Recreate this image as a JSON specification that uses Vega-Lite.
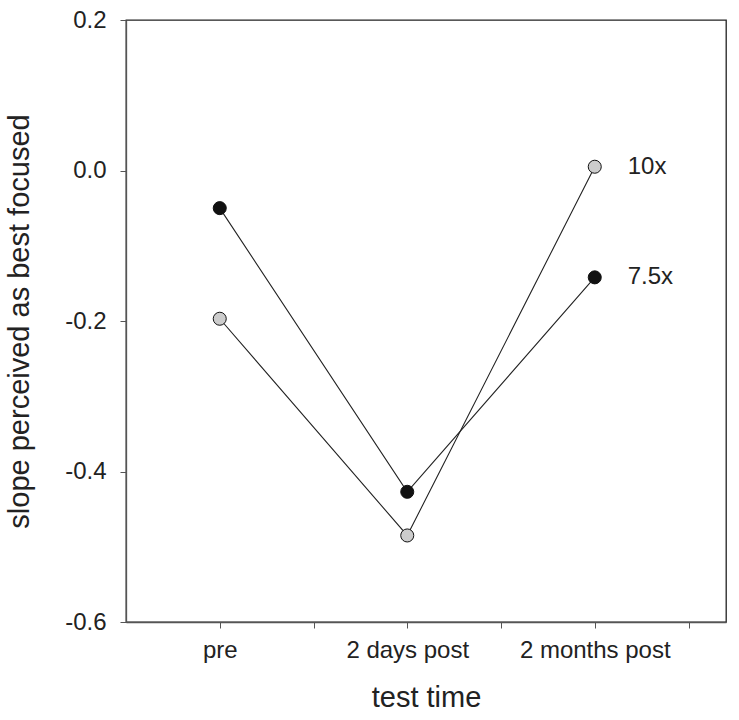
{
  "$schema": "https://vega.github.io/schema/vega-lite/v6.json",
  "width": 600,
  "height": 602,
  "autosize": {"type": "none"},
  "padding": {"left": 126, "top": 20, "right": 13, "bottom": 98},
  "background": "white",
  "config": {
    "view": {"stroke": "#222", "strokeWidth": 1.3},
    "font": "Liberation Sans",
    "axis": {"grid": false, "domainColor": "#555", "tickColor": "#555", "labelColor": "#222", "titleColor": "#222", "labelFontSize": 24, "titleFontSize": 29, "titleFontWeight": "normal", "tickSize": 6, "domainWidth": 1.3}
  },
  "data": {
    "values": [
      {"t": 1, "series": "7.5x", "slope": -0.05},
      {"t": 2, "series": "7.5x", "slope": -0.427},
      {"t": 3, "series": "7.5x", "slope": -0.142},
      {"t": 1, "series": "10x", "slope": -0.197},
      {"t": 2, "series": "10x", "slope": -0.485},
      {"t": 3, "series": "10x", "slope": 0.005}
    ]
  },
  "encoding": {
    "x": {
      "field": "t", "type": "quantitative",
      "scale": {"domain": [0.5, 3.7], "nice": false, "zero": false},
      "axis": {"values": [1, 1.5, 2, 2.5, 3, 3.5], "labelExpr": "datum.value == 1 ? 'pre' : datum.value == 2 ? '2 days post' : datum.value == 3 ? '2 months post' : ''", "title": "test time", "labelPadding": 10, "titlePadding": 21}
    },
    "y": {
      "field": "slope", "type": "quantitative",
      "scale": {"domain": [-0.6, 0.2], "nice": false, "zero": false},
      "axis": {"values": [0.2, 0, -0.2, -0.4, -0.6], "labelExpr": "datum.value < -0.001 ? '-' + format(-datum.value, '.1f') : format(abs(datum.value), '.1f')", "title": "slope perceived as best focused", "labelPadding": 14, "titlePadding": 30}
    }
  },
  "layer": [
    {
      "mark": {"type": "line", "color": "#222", "strokeWidth": 1.1},
      "encoding": {"detail": {"field": "series"}}
    },
    {
      "mark": {"type": "point", "filled": true, "size": 170, "stroke": "#111", "strokeWidth": 1, "opacity": 1},
      "encoding": {
        "fill": {"field": "series", "type": "nominal", "scale": {"domain": ["7.5x", "10x"], "range": ["#111111", "#cccccc"]}, "legend": null}
      }
    },
    {
      "transform": [{"filter": "datum.t == 3"}],
      "mark": {"type": "text", "align": "left", "baseline": "middle", "dx": 33, "fontSize": 24, "color": "#222"},
      "encoding": {"text": {"field": "series"}}
    }
  ]
}
